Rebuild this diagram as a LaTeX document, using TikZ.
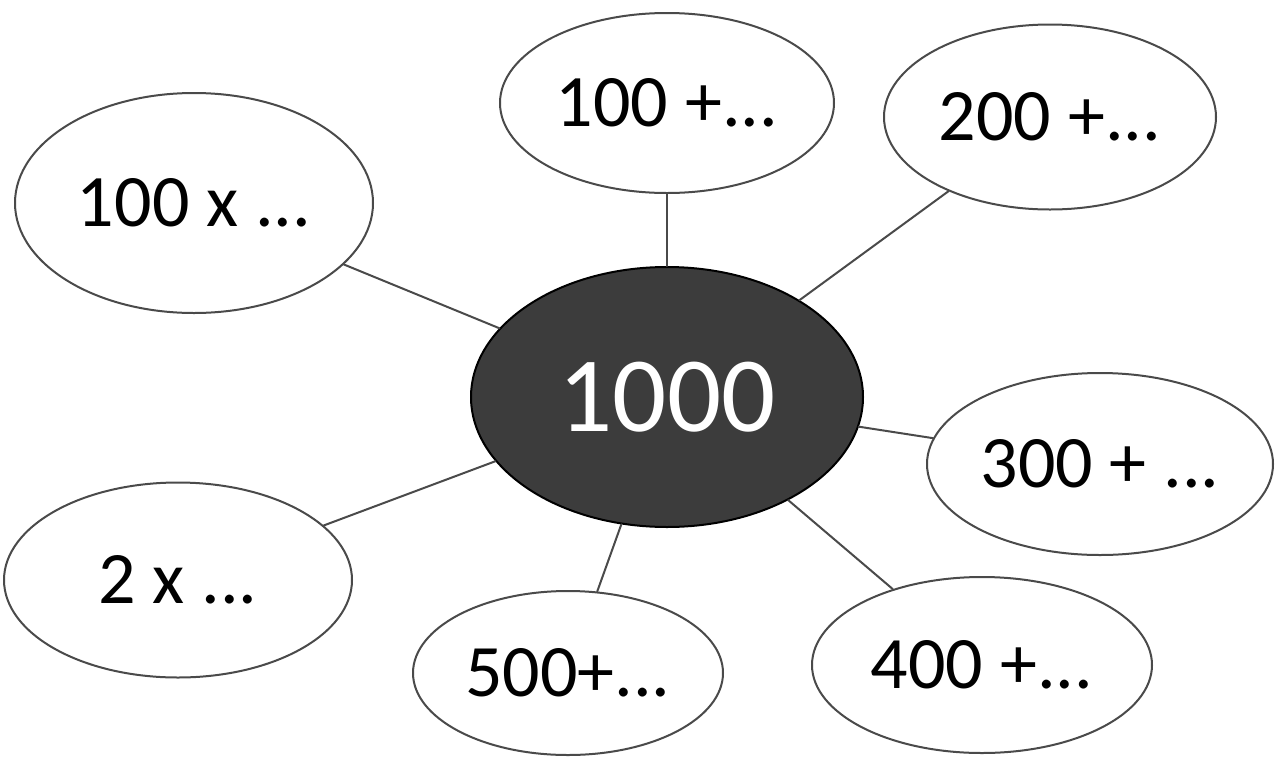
\documentclass[tikz,border=0pt]{standalone}
\usepackage{fontspec}
\setmainfont{Carlito}
\usetikzlibrary{shapes.geometric}
\definecolor{nen}{HTML}{3C3C3C}
\definecolor{vien}{HTML}{4A4A4A}
\tikzset{
	oval/.style={ellipse,draw=vien,line width=2pt,fill=white,inner sep=0pt,
		font=\fontsize{74}{80}\selectfont},
	tam/.style={ellipse,draw=black,line width=2pt,fill=nen,text=white,inner sep=0pt,
		font=\fontsize{107}{115}\selectfont},
	noi/.style={draw=vien,line width=2pt}
}
\begin{document}
\begin{tikzpicture}[x=1pt,y=-1pt,line join=round,line cap=round]
	\useasboundingbox (0,0) rectangle (1286,756);
	% o trung tam
	\node[tam,minimum width=392pt,minimum height=260pt] (c) at (667,397) {1000};
	% cac o xung quanh
	\node[oval,minimum width=334pt,minimum height=180pt] (a1) at (667,103) {100 +...};
	\node[oval,minimum width=332pt,minimum height=185pt] (a2) at (1050,117) {200 +...};
	\node[oval,minimum width=346pt,minimum height=182pt] (a3) at (1100,464) {300 + ...};
	\node[oval,minimum width=340pt,minimum height=176pt] (a4) at (982,665) {400 +...};
	\node[oval,minimum width=310pt,minimum height=164pt] (a5) at (568,673) {500+...};
	\node[oval,minimum width=348pt,minimum height=195pt] (a6) at (178,580) {2 x ...};
	\node[oval,minimum width=358pt,minimum height=220pt] (a7) at (194,203) {100 x ...};
	\foreach \i in {1,...,7}
		\draw[noi] (c) -- (a\i); % duong noi
\end{tikzpicture}
\end{document}
